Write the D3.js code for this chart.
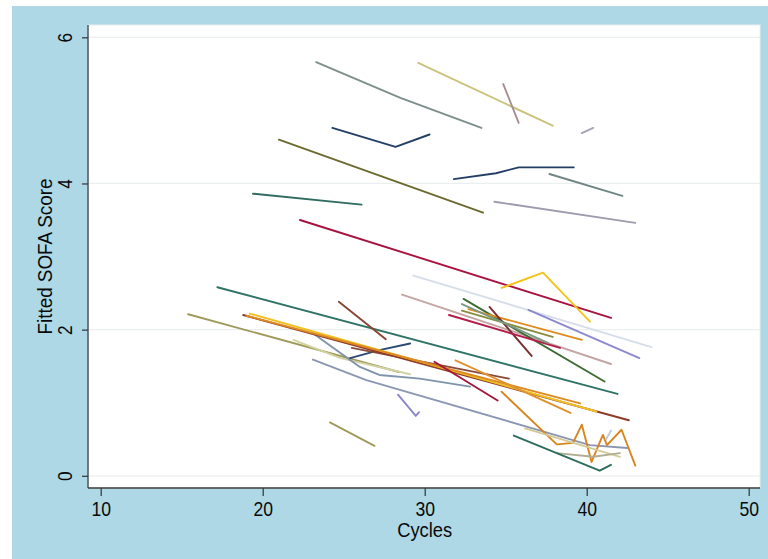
<!DOCTYPE html>
<html>
<head>
<meta charset="utf-8">
<script src="https://cdn.jsdelivr.net/npm/d3@7"></script>
<style>
  html, body { margin: 0; padding: 0; background: #ffffff; }
  svg { display: block; }
  .lbl { font-family: "Liberation Sans", Arial, sans-serif; fill: #0a0a0a; }
</style>
</head>
<body>
<svg id="chart" width="768" height="559"></svg>
<script>
// ---------------- data ----------------
const xTicks = [10, 20, 30, 40, 50];
const yTicks = [0, 2, 4, 6];
const xTitle = "Cycles";
const yTitle = "Fitted SOFA Score";

// one entry per patient trajectory: cycles (x) and fitted SOFA scores (y)
const lineColors = [
  "#7d8f8c", "#cac27e", "#a58f90", "#a4a4b4", "#243f66", "#6b6a2f", "#243f66", "#6f8684",
  "#2f6b60", "#9c9cae", "#a8123f", "#f2c318", "#d6dee9", "#8c88cf", "#c3a6a2", "#2f7466",
  "#3f6b35", "#e08a1c", "#7a2d2d", "#b21e4c", "#8a8c3e", "#7a9a82", "#8a4532", "#a09a5a",
  "#d2d2a2", "#7f93ab", "#8b97b2", "#2a4a72", "#8a4a3a", "#8e3a26", "#f0c020", "#dd8a22",
  "#a3183a", "#e0922e", "#8a86c8", "#a09a5a", "#d8841f", "#d3ca98", "#b0ad92", "#2d6d5e",
  "#bccde2"
];
const lineCycles = [
  [23.3, 28.5, 33.5],
  [29.6, 37.9],
  [34.85, 35.8],
  [39.7, 40.4],
  [24.3, 28.2, 30.3],
  [21.0, 33.6],
  [31.8, 34.4, 35.8, 39.2],
  [37.7, 42.2],
  [19.4, 26.1],
  [34.3, 43.0],
  [22.3, 41.5],
  [34.75, 37.3, 40.2],
  [29.3, 44.0],
  [36.4, 43.25],
  [28.6, 41.5],
  [17.2, 41.9],
  [32.4, 41.1],
  [32.7, 39.7],
  [34.0, 36.6],
  [31.5, 38.35],
  [32.3, 37.9],
  [32.3, 37.6],
  [24.7, 27.6],
  [15.4, 28.4],
  [21.9, 24.8, 29.1],
  [23.1, 26.0, 27.2, 29.7, 32.8],
  [23.1, 26.4, 40.2, 42.5],
  [25.4, 27.2, 29.1],
  [25.5, 35.2],
  [18.8, 42.6],
  [19.2, 40.6],
  [19.0, 39.6],
  [30.6, 34.5],
  [31.9, 39.0],
  [28.35, 29.45, 29.65],
  [24.15, 26.9],
  [34.75, 38.15, 39.15, 39.7, 40.3, 41.0, 41.25, 42.15, 43.0],
  [36.2, 42.05],
  [38.15, 40.4, 42.05],
  [35.5, 40.8, 41.5],
  [41.2, 41.5]
];
const lineScores = [
  [5.66, 5.17, 4.76],
  [5.65, 4.79],
  [5.36, 4.83],
  [4.69, 4.76],
  [4.76, 4.50, 4.67],
  [4.60, 3.60],
  [4.06, 4.14, 4.22, 4.22],
  [4.13, 3.83],
  [3.86, 3.71],
  [3.75, 3.46],
  [3.50, 2.16],
  [2.57, 2.78, 2.11],
  [2.74, 1.76],
  [2.27, 1.61],
  [2.48, 1.53],
  [2.58, 1.12],
  [2.42, 1.29],
  [2.28, 1.86],
  [2.31, 1.64],
  [2.20, 1.75],
  [2.26, 1.90],
  [2.35, 1.82],
  [2.38, 1.87],
  [2.21, 1.42],
  [1.86, 1.61, 1.39],
  [1.95, 1.49, 1.38, 1.33, 1.22],
  [1.59, 1.31, 0.42, 0.38],
  [1.61, 1.72, 1.81],
  [1.75, 1.33],
  [2.20, 0.76],
  [2.22, 0.88],
  [2.19, 0.99],
  [1.56, 1.03],
  [1.58, 0.86],
  [1.11, 0.82, 0.87],
  [0.73, 0.41],
  [1.15, 0.43, 0.45, 0.70, 0.19, 0.56, 0.42, 0.63, 0.14],
  [0.65, 0.26],
  [0.31, 0.26, 0.31],
  [0.55, 0.07, 0.15],
  [0.50, 0.62]
];

// ---------------- drawing ----------------
const svg = d3.select("#chart");
const W = 768, H = 559;
const plot = { left: 88, top: 25, right: 760, bottom: 488 };

const x = d3.scaleLinear().domain([10, 50]).range([100.7, 748.7]);
const y = d3.scaleLinear().domain([0, 6]).range([475.8, 37.3]);

// outer graph region
svg.append("rect").attr("x", 0).attr("y", 0).attr("width", W).attr("height", H).attr("fill", "#ffffff");
svg.append("rect").attr("x", 12).attr("y", 6).attr("width", W - 12).attr("height", H - 6).attr("fill", "#aed8e5");

// plot region
svg.append("rect")
  .attr("x", plot.left).attr("y", plot.top)
  .attr("width", plot.right - plot.left).attr("height", plot.bottom - plot.top)
  .attr("fill", "#ffffff").attr("stroke", "#e4eef1").attr("stroke-width", 1);

// gridlines
svg.append("g").selectAll("line").data(yTicks).join("line")
  .attr("x1", plot.left).attr("x2", plot.right)
  .attr("y1", d => y(d)).attr("y2", d => y(d))
  .attr("stroke", "#eceff0").attr("stroke-width", 1.2);

// trajectories
const lineGen = d3.line().x(d => x(d[0])).y(d => y(d[1]));
const series = lineCycles.map((cs, i) => ({ color: lineColors[i], pts: cs.map((c, j) => [c, lineScores[i][j]]) }));
svg.append("g").selectAll("path").data(series).join("path")
  .attr("d", d => lineGen(d.pts))
  .attr("fill", "none")
  .attr("stroke", d => d.color)
  .attr("stroke-width", 1.9)
  .attr("stroke-linejoin", "round")
  .attr("stroke-linecap", "round");

// axes
const yAxis = d3.axisLeft(y).tickValues(yTicks).tickSize(6).tickSizeOuter(0).tickFormat(d3.format("d"));
const gy = svg.append("g").attr("transform", `translate(${plot.left},0)`).call(yAxis);
gy.select(".domain").remove();
gy.selectAll(".tick line").attr("stroke", "#333").attr("stroke-width", 1.2);
gy.selectAll(".tick text")
  .attr("class", "lbl")
  .attr("x", null).attr("dy", null)
  .attr("text-anchor", "middle")
  .attr("transform", "translate(-16,0) rotate(-90) scale(0.86,1)")
  .style("font-size", "20px");

const xAxis = d3.axisBottom(x).tickValues(xTicks).tickSize(8).tickSizeOuter(0).tickFormat(d3.format("d"));
const gx = svg.append("g").attr("transform", `translate(0,${plot.bottom})`).call(xAxis);
gx.select(".domain").remove();
gx.selectAll(".tick line").attr("stroke", "#333").attr("stroke-width", 1.2);
gx.selectAll(".tick text")
  .attr("class", "lbl")
  .attr("y", 28).attr("dy", null)
  .attr("text-anchor", "middle")
  .attr("transform", "scale(0.88,1)")
  .style("font-size", "20px");

// axis lines
svg.append("line").attr("x1", plot.left).attr("x2", plot.left).attr("y1", plot.top).attr("y2", plot.bottom)
  .attr("stroke", "#3a3a3a").attr("stroke-width", 1.3);
svg.append("line").attr("x1", plot.left).attr("x2", plot.right).attr("y1", plot.bottom).attr("y2", plot.bottom)
  .attr("stroke", "#3a3a3a").attr("stroke-width", 1.3);

// titles
svg.append("text").attr("class", "lbl")
  .attr("x", (x(10) + x(50)) / 2).attr("y", 537)
  .attr("text-anchor", "middle").style("font-size", "21px")
  .attr("textLength", 55).attr("lengthAdjust", "spacingAndGlyphs")
  .text(xTitle);
svg.append("text").attr("class", "lbl")
  .attr("transform", `translate(52,${(plot.top + plot.bottom) / 2}) rotate(-90)`)
  .attr("text-anchor", "middle").style("font-size", "21px")
  .attr("textLength", 156).attr("lengthAdjust", "spacingAndGlyphs")
  .text(yTitle);
</script>
</body>
</html>
